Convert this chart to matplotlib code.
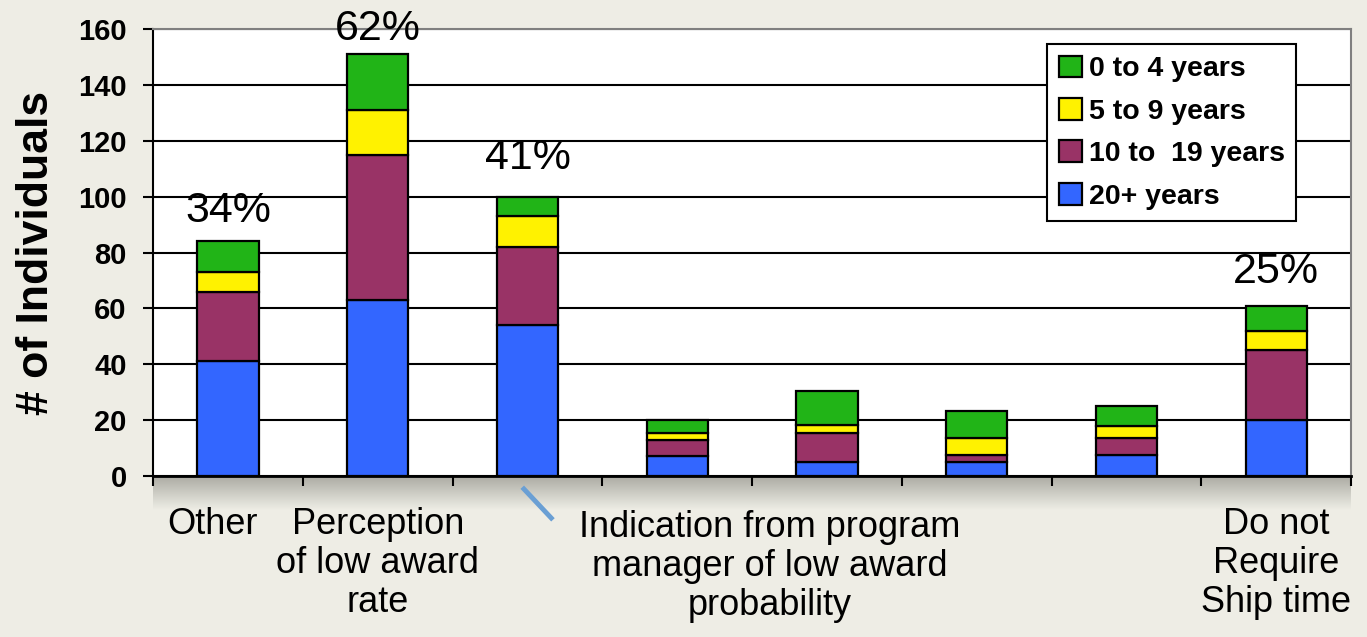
import matplotlib.pyplot as plt
import matplotlib.transforms as mtransforms
import numpy as np

plt.rcParams['font.family'] = ['Liberation Sans', 'DejaVu Sans']

categories = ["Other", "Perception\nof low award\nrate", "", "", "", "", "", "Do not\nRequire\nShip time"]
callout_label = "Indication from program\nmanager of low award\nprobability"
series_names = ["20+ years", "10 to  19 years", "5 to 9 years", "0 to 4 years"]
blue = [41, 63, 54, 7, 5, 5, 7.5, 20]
maroon = [25, 52, 28, 6, 10.5, 2.6, 6.2, 25]
yellow = [7, 16, 11, 2.5, 2.6, 6, 4.3, 7]
green = [11, 20, 7, 4.5, 12.4, 9.8, 7, 9]
pct_idx = [0, 1, 2, 7]
pct_text = ["34%", "62%", "41%", "25%"]
pct_gap = [11, 9, 14, 12]

colors = ['#3366FF', '#993366', '#FFF200', '#21B417']
bg = '#EEEDE5'

fig = plt.figure(figsize=(13.67, 6.37), dpi=100, facecolor=bg)

# soft shadow under the plot area
sh = fig.add_axes([0.112, 0.2, 0.876, 0.055], zorder=0)
grad = np.linspace(0, 1, 50).reshape(-1, 1)
sh.imshow(grad, aspect='auto', cmap=plt.matplotlib.colors.LinearSegmentedColormap.from_list(
    'sh', ['#EEEDE5', '#A8A8A0']), extent=[0, 1, 0, 1], origin='lower')
sh.axis('off')

ax = fig.add_axes([0.112, 0.2527, 0.8764, 0.7018], zorder=1)
ax.set_facecolor('white')

x = np.arange(len(categories))
stack = [blue, maroon, yellow, green]
bottom = np.zeros(len(x))
bars = []
for vals, col, name in zip(stack, colors, series_names):
    b = ax.bar(x, vals, 0.41, bottom=bottom, color=col, edgecolor='black',
               linewidth=1.6, label=name, zorder=3)
    bars.append(b)
    bottom += np.array(vals)

for i, t, g in zip(pct_idx, pct_text, pct_gap):
    ax.text(x[i], bottom[i] + g, t, ha='center', va='center', fontsize=31, clip_on=False, zorder=5)

ax.set_xlim(-0.5, 7.5)
ax.set_ylim(0, 160)
ax.set_yticks(np.arange(0, 161, 20))
ax.yaxis.grid(True, color='black', linewidth=1.5, zorder=0)
ax.set_axisbelow(True)
for lab in ax.get_yticklabels():
    lab.set_fontweight('bold')
ax.tick_params(axis='y', direction='out', length=7, width=1.5, labelsize=21, pad=12)

ax.set_xticks(x)
ax.set_xticklabels(categories, fontsize=26, linespacing=1.15)
ax.tick_params(axis='x', length=0, pad=22)
ax.set_xticks(np.arange(-0.5, 8, 1), minor=True)
ax.tick_params(axis='x', which='minor', direction='out', length=7, width=1.5)
shift = mtransforms.ScaledTranslation(-15 / 100, 0, fig.dpi_scale_trans)
other = ax.xaxis.get_major_ticks()[0].label1
other.set_transform(other.get_transform() + shift)

ax.set_ylabel("# of Individuals", fontsize=32, fontweight='bold', labelpad=15)

for s in ['top', 'right']:
    ax.spines[s].set_color('#808080')
    ax.spines[s].set_linewidth(1.5)
ax.spines['left'].set_linewidth(1.5)
ax.spines['bottom'].set_linewidth(2)

# callout label for the third category
trans = mtransforms.blended_transform_factory(ax.transData, ax.transAxes)
ax.plot([1.965, 2.17], [-0.025, -0.098], color='#6A9FD4', linewidth=3.5,
        transform=trans, clip_on=False, solid_capstyle='butt')
ax.text(3.62, -0.075, callout_label, transform=trans, ha='center', va='top',
        fontsize=26, linespacing=1.15)

handles = bars[::-1]
leg = ax.legend(handles, series_names[::-1], loc='upper right', bbox_to_anchor=(0.954, 0.966),
                prop={'weight': 'bold', 'size': 20.5}, frameon=True, fancybox=False,
                framealpha=1, edgecolor='black', borderaxespad=0, handlelength=0.8,
                handleheight=0.8, handletextpad=0.25, labelspacing=0.55, borderpad=0.4)
leg.get_frame().set_linewidth(1.5)

fig.savefig("out.png", dpi=100, facecolor=bg)
